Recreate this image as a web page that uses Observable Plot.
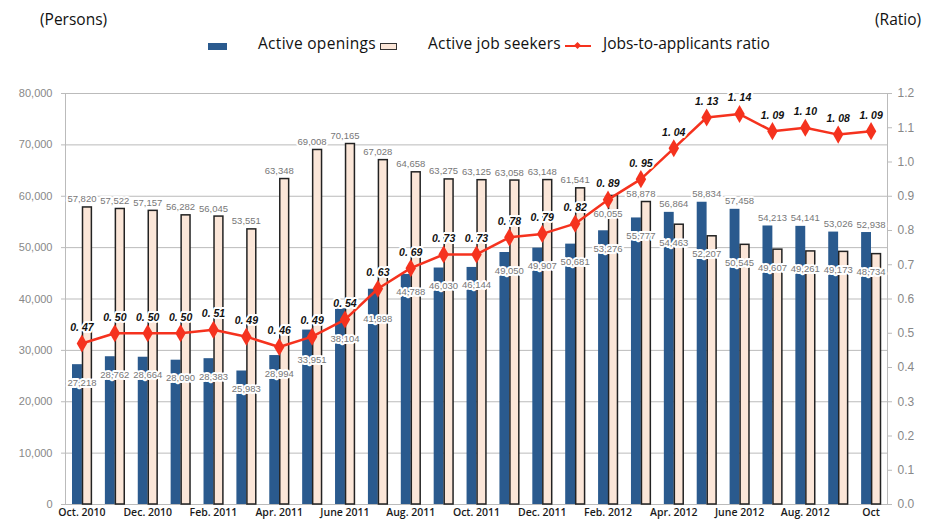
<!DOCTYPE html>
<html>
<head>
<meta charset="utf-8">
<script src="https://cdn.jsdelivr.net/npm/d3@7"></script>
<script src="https://cdn.jsdelivr.net/npm/@observablehq/plot@0.6"></script>
<style>
  html, body { margin: 0; padding: 0; background: #fff; }
  #wrap { position: relative; width: 928px; height: 520px; overflow: hidden; font-family: "Open Sans", "Noto Sans", sans-serif; }
  .hdr { position: absolute; font-size: 15.5px; color: #111; white-space: nowrap; }
  .sw { position: absolute; }
  #chart { position: absolute; left: 0; top: 70px; }
</style>
</head>
<body>
<div id="wrap">
  <div class="hdr" style="left:40px; top:8px;">(Persons)</div>
  <div class="hdr" style="left:875px; top:8px;">(Ratio)</div>
  <div class="sw" style="left:208px; top:43px; width:19px; height:7px; background:#2a5a8e;"></div>
  <div class="hdr" style="left:258px; top:32px; letter-spacing:0.3px;">Active openings</div>
  <div class="sw" style="left:380px; top:43px; width:15px; height:5px; background:#fbe6d8; border:1.5px solid #333;"></div>
  <div class="hdr" style="left:428px; top:32px; letter-spacing:0.2px;">Active job seekers</div>
  <div class="sw" style="left:565px; top:45px; width:26px; height:2px; background:#f5321e;"></div>
  <div class="sw" style="left:575px; top:43px; width:5px; height:5px; background:#f5321e; transform:rotate(45deg);"></div>
  <div class="hdr" style="left:603px; top:32px;">Jobs-to-applicants ratio</div>
  <div id="chart"></div>
</div>
<script>
const months = ["Oct. 2010","Nov. 2010","Dec. 2010","Jan. 2011","Feb. 2011","Mar. 2011","Apr. 2011","May 2011","June 2011","July 2011","Aug. 2011","Sep. 2011","Oct. 2011","Nov. 2011","Dec. 2011","Jan. 2012","Feb. 2012","Mar. 2012","Apr. 2012","May 2012","June 2012","July 2012","Aug. 2012","Sep. 2012","Oct"];
const openings = [27218,28762,28664,28090,28383,25983,28994,33951,38104,41898,44788,46030,46144,49050,49907,50681,53276,55777,56864,58834,57458,54213,54141,53026,52938];
const seekers = [57820,57522,57157,56282,56045,53551,63348,69008,70165,67028,64658,63275,63125,63058,63148,61541,60055,58878,54463,52207,50545,49607,49261,49173,48734];
const ratio = [0.47,0.50,0.50,0.50,0.51,0.49,0.46,0.49,0.54,0.63,0.69,0.73,0.73,0.78,0.79,0.82,0.89,0.95,1.04,1.13,1.14,1.09,1.10,1.08,1.09];
const xTickMonths = ["Oct. 2010","Dec. 2010","Feb. 2011","Apr. 2011","June 2011","Aug. 2011","Oct. 2011","Dec. 2011","Feb. 2012","Apr. 2012","June 2012","Aug. 2012","Oct"];
const leftTicks = [0,10000,20000,30000,40000,50000,60000,70000,80000];
const rightTicks = [0,0.1,0.2,0.3,0.4,0.5,0.6,0.7,0.8,0.9,1.0,1.1,1.2];

const yMax = 80000, rMax = 1.2, k = yMax / rMax;
const data = months.map((m, i) => ({month: m, openings: openings[i], seekers: seekers[i], ratio: ratio[i], r: ratio[i] * k}));
const fmt = d3.format(",");
const rfmt = v => d3.format(".2f")(v).replace(".", ". ");

// label placement rules (avoid the ratio line / other bar)
const skLow = d => d.seekers < d.openings || Math.abs(d.r - d.seekers) < 3000;
const lineNearOp = d => (d.r - d.openings) > -5000 && (d.r - d.openings) < 1000;
const opBelow = data.filter(d => d.openings < d.seekers && !lineNearOp(d));
const opBelowFar = data.filter(d => d.openings < d.seekers && lineNearOp(d));
const opAbove = data.filter(d => d.openings >= d.seekers);
const skBelow = data.filter(skLow);
const skAbove = data.filter(d => !skLow(d));

const numStyle = {fill: "#777", stroke: "white", strokeWidth: 4, fontSize: 9.5, letterSpacing: -0.2, fontFamily: "'Liberation Sans', Arial, sans-serif"};

const chart = Plot.plot({
  width: 928,
  height: 450,
  marginTop: 23,
  marginBottom: 16,
  marginLeft: 65,
  marginRight: 41,
  x: {domain: months, padding: 0, round: false, axis: null},
  y: {domain: [0, yMax], axis: null},
  style: {background: "white", overflow: "visible"},
  marks: [
    Plot.gridY(leftTicks, {stroke: "#bbb", strokeOpacity: 1}),
    Plot.frame({stroke: "#bbb"}),
    Plot.axisY(leftTicks, {anchor: "left", label: null, tickSize: 4, tickPadding: 9, stroke: "#bbb", tickFormat: fmt, fill: "#888", fontSize: 11, fontFamily: "'Liberation Sans', Arial, sans-serif"}),
    Plot.axisY(rightTicks.map(v => v * k), {anchor: "right", label: null, tickSize: 4, tickPadding: 6, stroke: "#bbb", tickFormat: v => (v / k).toFixed(1), fill: "#888", fontSize: 12, fontFamily: "'Liberation Sans', Arial, sans-serif"}),
    Plot.axisX(xTickMonths, {anchor: "bottom", label: null, tickSize: 0, tickPadding: 4, fill: "#1a1a1a", fontSize: 10.5, fontWeight: 600, fontFamily: "'Open Sans', sans-serif"}),
    Plot.barY(data, {x: "month", y: "openings", fill: "#2a5a8e", insetLeft: 7, insetRight: 16}),
    Plot.barY(data, {x: "month", y: "seekers", fill: "#fbe6d8", stroke: "#222", strokeWidth: 1.5, insetLeft: 17.5, insetRight: 6.5}),
    Plot.text(opBelow, {x: "month", y: "openings", text: d => fmt(d.openings), dy: 18, ...numStyle}),
    Plot.text(opBelowFar, {x: "month", y: "openings", text: d => fmt(d.openings), dy: 30, ...numStyle}),
    Plot.text(opAbove, {x: "month", y: "openings", text: d => fmt(d.openings), dy: -8, ...numStyle}),
    Plot.text(skAbove, {x: "month", y: "seekers", text: d => fmt(d.seekers), dy: -8, ...numStyle}),
    Plot.text(skBelow, {x: "month", y: "seekers", text: d => fmt(d.seekers), dy: 18, ...numStyle}),
    Plot.line(data, {x: "month", y: "r", stroke: "#f5321e", strokeWidth: 2.5}),
    Plot.dot(data, {x: "month", y: "r", symbol: "diamond", r: 5.5, fill: "#f5321e"}),
    Plot.text(data, {x: "month", y: "r", text: d => rfmt(d.ratio), dy: -16, fill: "#111", stroke: "white", strokeWidth: 4, fontSize: 10.5, fontWeight: "bold", fontStyle: "italic", fontFamily: "'Liberation Sans', Arial, sans-serif"})
  ]
});
document.getElementById("chart").appendChild(chart);
</script>
</body>
</html>
